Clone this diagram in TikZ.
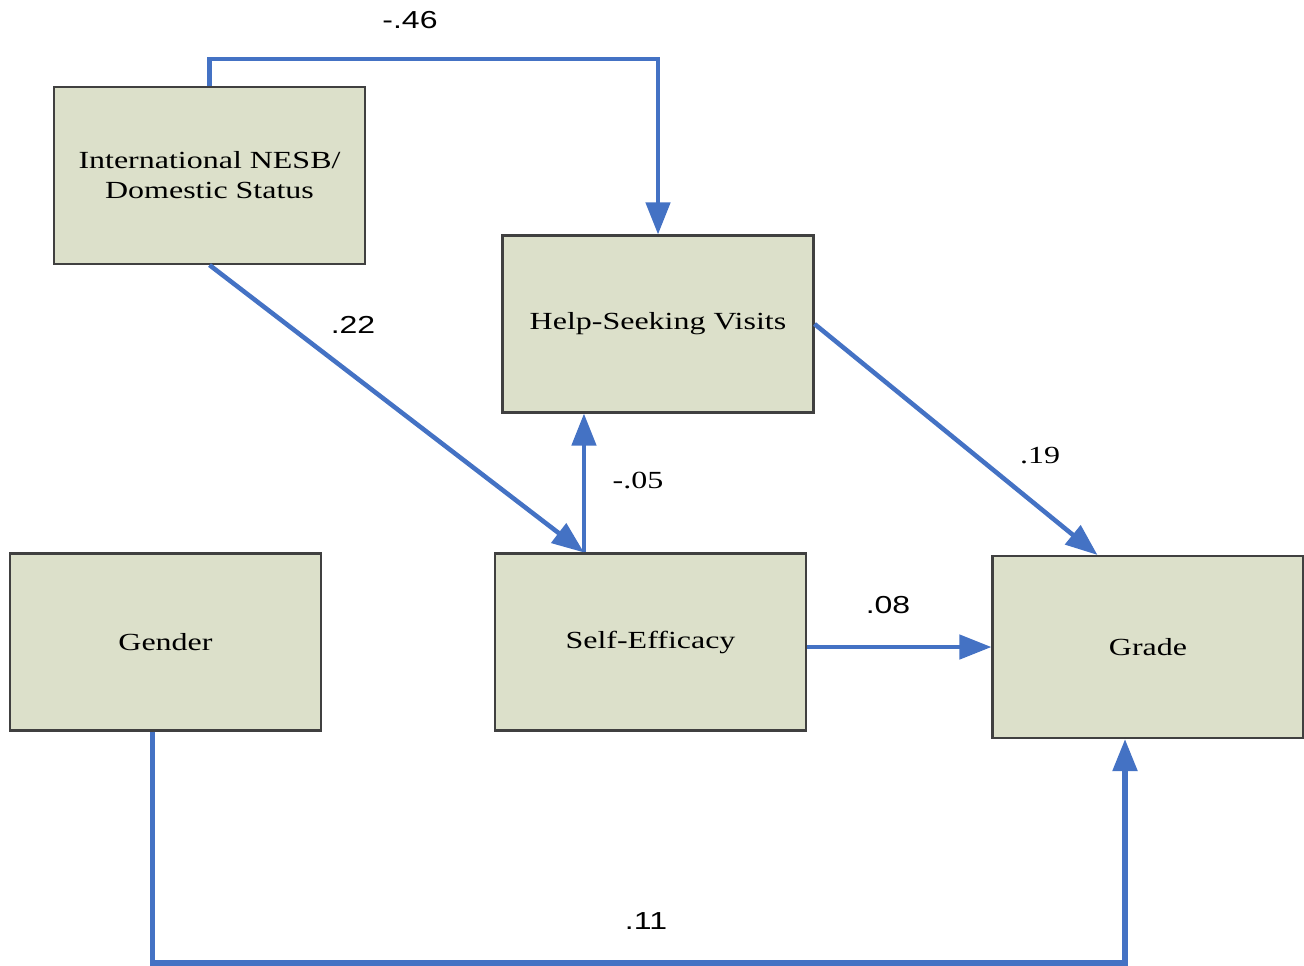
\documentclass[tikz,border=0pt]{standalone}
\usepackage{fontspec}
\setmainfont[FakeStretch=1.3]{Liberation Serif}
\newfontfamily\labsans[FakeStretch=1.3]{Liberation Sans}
\usetikzlibrary{calc}
\usetikzlibrary{arrows.meta}
\definecolor{boxfill}{HTML}{DCE0CA}
\definecolor{boxline}{HTML}{404040}
\definecolor{pathblue}{HTML}{4472C4}
\tikzset{
	var/.style={draw=boxline,line width=1.2pt,fill=boxfill,minimum width=6.22cm,minimum height=3.54cm,
		align=center,font=\fontsize{14}{17}\selectfont,inner sep=0pt},
	link/.style={pathblue,line width=2.6pt,-{Triangle[length=0.64cm,width=0.48cm]}},
	coef/.style={font=\fontsize{14}{17}\selectfont},
}
\begin{document}
\begin{tikzpicture}[x=0.02cm,y=-0.02cm]
\useasboundingbox (0,0) rectangle (1304,965);
		\node[var] (intl) at (209.5,175.5) {International NESB/\\Domestic Status};
		\node[var] (help) at (658,324) {Help-Seeking Visits};
		\node[var] (gender) at (165.5,642) {Gender};
		\node[var] (se) at (650.5,642) {Self-Efficacy};
		\node[var,minimum height=3.64cm] (grade) at (1148,647) {Grade};
		\coordinate (t46) at (0,59);
		\coordinate (b11) at (0,963);
		\coordinate (seTop) at ($(se.north west)+(90,0)$);
		\coordinate (gradeTop) at ($(grade.north west)+(106,0)$);
		\coordinate (genFoot) at ($(gender.south)+(-13,0)$);
		\coordinate (gradeFoot) at ($(grade.south)+(-23,0)$);
		\draw[link] (intl.north) -- (intl.north |- t46) -| (help.north);
		\draw[link] (intl.south) -- (seTop);
		\draw[link] (seTop) -- (seTop |- help.south);
		\draw[link] (help.east) -- (gradeTop);
		\draw[link] (se.east |- grade.west) -- (grade.west);
		\draw[link,line width=3pt] (genFoot) -- (genFoot |- b11) -| (gradeFoot);
%		coefficients
		\node[coef,font=\labsans\fontsize{14}{17}\selectfont] (c46) at (410,20) {-.46};
		\node[coef,font=\labsans\fontsize{14}{17}\selectfont] (c22) at (353,325) {.22};
		\node[coef] (c05) at (638,480) {-.05};
		\node[coef] (c19) at (1040,456) {.19};
		\node[coef,font=\labsans\fontsize{14}{17}\selectfont] (c08) at (888,605) {.08};
		\node[coef,font=\labsans\fontsize{14}{17}\selectfont] (c11) at (646,921) {.11};
\end{tikzpicture}
\end{document}
